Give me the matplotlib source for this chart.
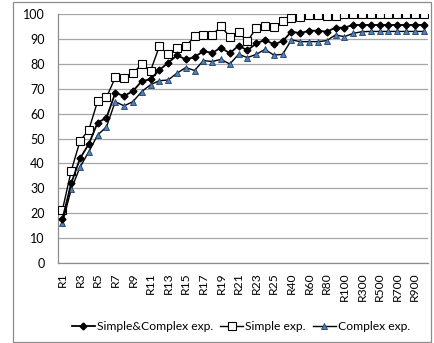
import matplotlib
matplotlib.use("Agg")
import matplotlib.pyplot as plt
from matplotlib.patches import Rectangle

categories = ["R%d" % i for i in range(1, 26)] + \
    ["R30", "R40", "R50", "R60", "R70", "R80", "R90", "R100",
     "R200", "R300", "R400", "R500", "R600", "R700", "R800", "R900", "R1000"]

simple_complex = [17.7, 32, 42, 47.8, 56.4, 58.3, 68.3, 67.1, 69, 73, 73.8, 77.5, 80.4,
                  83.4, 81.8, 82.7, 85.1, 84.4, 86.5, 84.2, 87.3, 85.4, 88.2, 89.6, 87.8,
                  89.1, 92.9, 92.3, 93.3, 93.3, 92.9, 94.5, 94.5, 95.6, 95.6, 95.6, 95.6,
                  95.6, 95.6, 95.6, 95.6, 95.6]
simple = [21.3, 37, 49, 53.5, 65, 66.5, 74.5, 74.3, 76.2, 79.8, 77.1, 87, 83.8, 86.4,
          87, 91, 91.4, 91.6, 95, 90.9, 92.6, 89.1, 94.3, 95.2, 94.8, 97, 98.4, 98.8,
          99.6, 99.6, 99.2, 99.3, 100, 100, 100, 100, 100, 100, 100, 100, 100, 100]
complex_ = [16, 29.6, 38.5, 44.7, 51.4, 54.7, 64.8, 63.1, 64.8, 68.8, 71.6, 73.2, 73.5,
            76.2, 78.5, 77.3, 81.3, 80.9, 81.8, 79.9, 83.8, 82.5, 83.8, 85.8, 83.5, 83.8,
            89.6, 88.9, 88.9, 88.9, 89.3, 91.6, 90.9, 92.2, 92.9, 93, 93, 93, 93, 93, 93, 93]
yticks = list(range(0, 101, 10))

plt.rcParams['font.family'] = ['Lato', 'DejaVu Sans']

fig = plt.figure(figsize=(4.34, 3.43), dpi=100)
fig.patches.append(Rectangle((13 / 434, 1 / 343), (431 - 13) / 434, (341 - 1) / 343,
                             transform=fig.transFigure, fill=False,
                             edgecolor='#8c8c8c', linewidth=0.9))
ax = fig.add_axes([58 / 434, (343 - 263) / 343, (428 - 58) / 434, (263 - 14) / 343])

x = list(range(len(categories)))
ax.plot(x, simple_complex, color='black', lw=1.3, marker='D', ms=3.5,
        mfc='black', mec='black', label='Simple&Complex exp.', zorder=4)
ax.plot(x, simple, color='black', lw=1.0, marker='s', ms=5.5,
        mfc='white', mec='black', mew=0.8, label='Simple exp.', zorder=3)
ax.plot(x, complex_, color='black', lw=1.0, marker='^', ms=5,
        mfc='#4f81bd', mec='#1f3f66', mew=0.6, label='Complex exp.', zorder=3)

ax.set_xlim(-0.5, len(categories) - 0.5)
ax.set_ylim(0, 100)
ax.set_yticks(yticks)
ax.set_yticklabels([str(v) for v in yticks], fontsize=9)
ax.set_xticks(x[::2])
ax.set_xticklabels(categories[::2], rotation=90, fontsize=8.7)
ax.tick_params(axis='both', length=0)
ax.tick_params(axis='x', pad=6.5)
ax.tick_params(axis='y', pad=9.5)
ax.grid(axis='y', color='#a6a6a6', lw=0.9)
ax.set_axisbelow(True)
for s in ['top', 'right']:
    ax.spines[s].set_visible(False)
for s in ['left', 'bottom']:
    ax.spines[s].set_color('#8c8c8c')
    ax.spines[s].set_linewidth(0.9)

fig.legend(loc='center', bbox_to_anchor=(0.555, 0.048), ncol=3, frameon=False,
           fontsize=8.7, handlelength=1.9, handletextpad=0.15, columnspacing=0.6)

fig.savefig('out.png', dpi=100)
